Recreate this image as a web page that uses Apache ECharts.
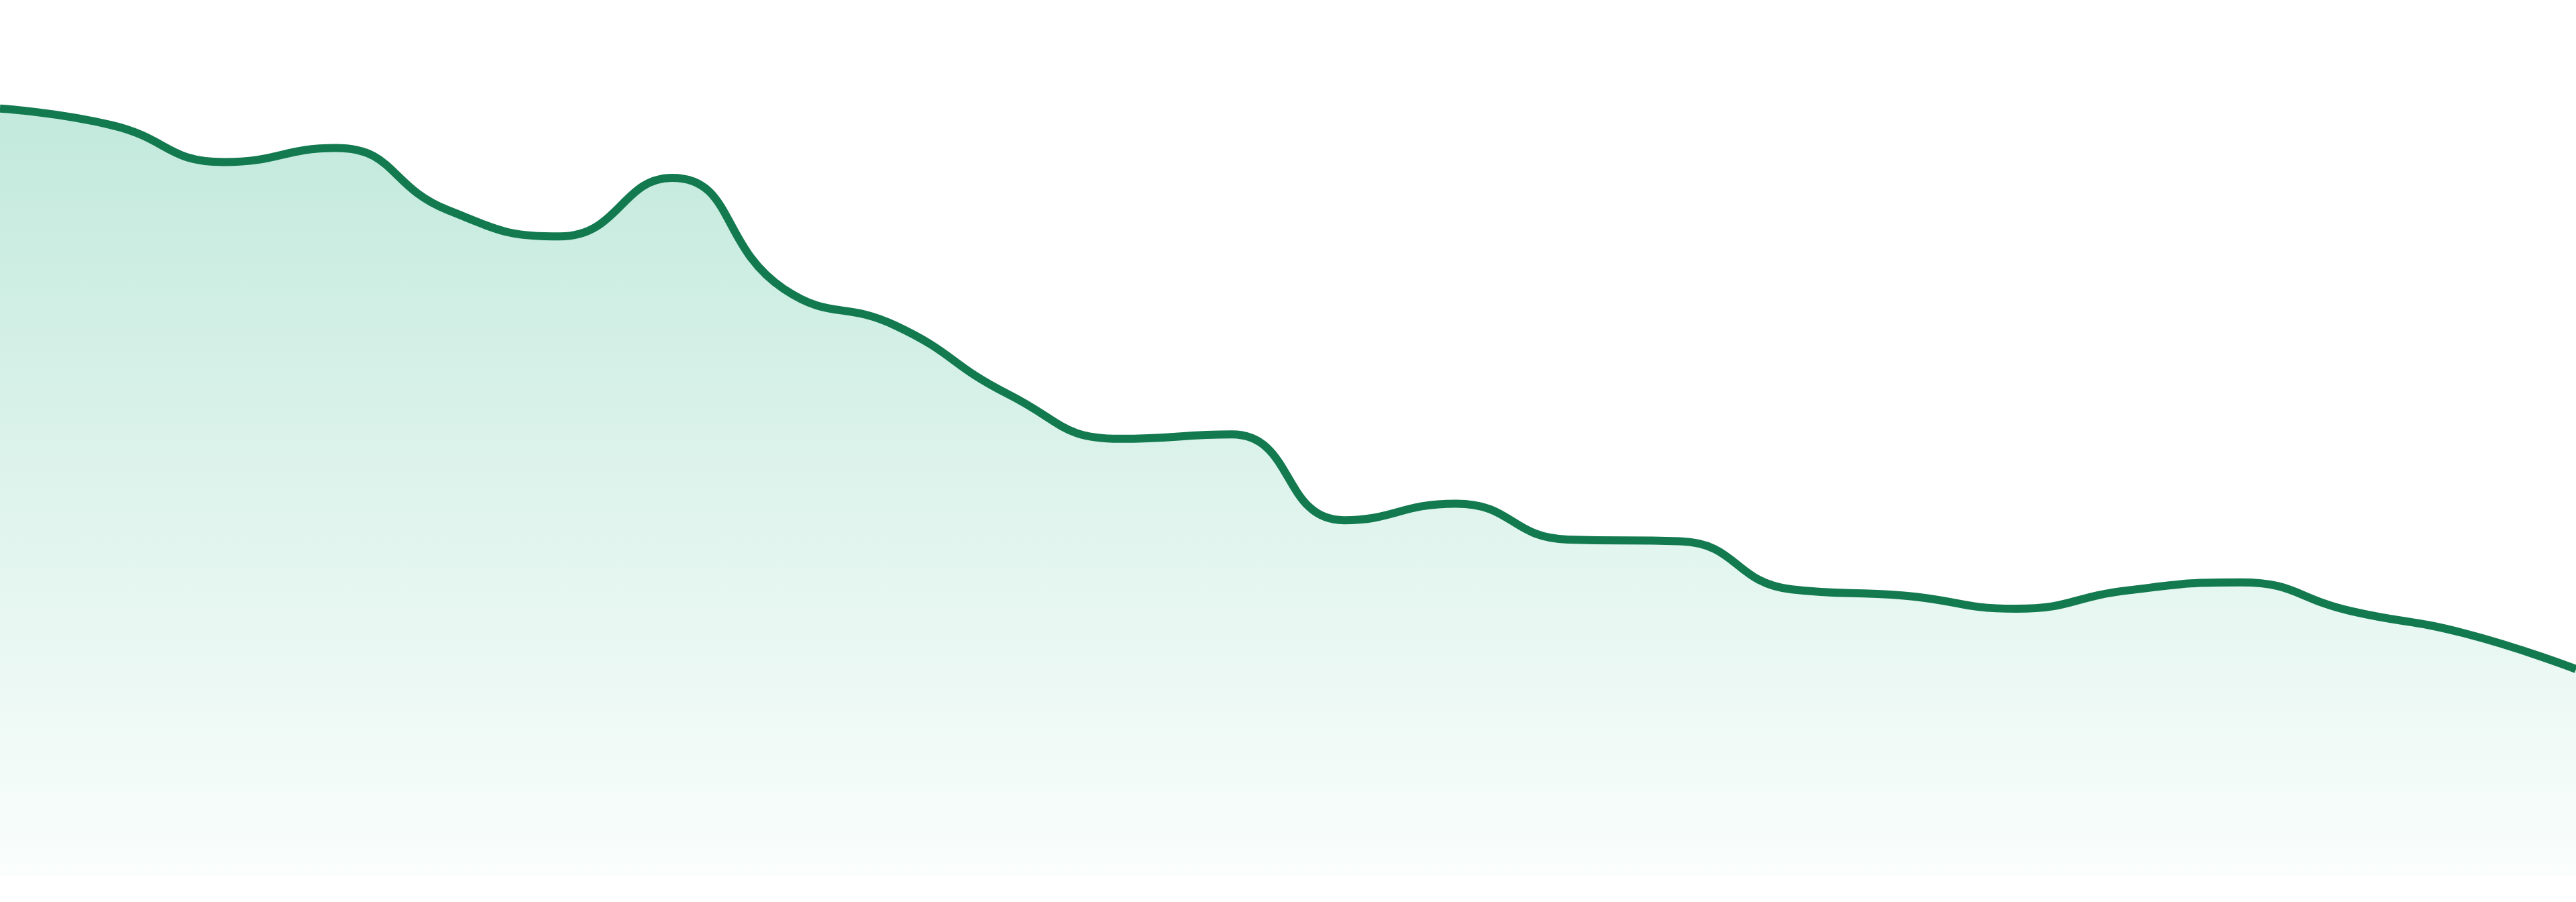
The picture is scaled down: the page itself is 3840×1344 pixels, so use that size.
<!DOCTYPE html>
<html>
<head>
<meta charset="utf-8">
<style>
  html, body { margin: 0; padding: 0; background: #ffffff; overflow: hidden; }
  #chart { width: 100vw; height: 100vh; }
</style>
<script src="https://cdn.jsdelivr.net/npm/echarts@6/dist/echarts.min.js"></script>
</head>
<body>
<div id="chart"></div>
<script>
const categories = ["P1","P2","P3","P4","P5","P6","P7","P8","P9","P10","P11","P12",
                    "P13","P14","P15","P16","P17","P18","P19","P20","P21","P22","P23","P24"];
const values = [87.6, 85.7, 81.5, 83.1, 76.0, 73.0, 79.7, 67.0, 62.8, 55.0, 49.9, 50.4,
                40.6, 42.5, 38.4, 38.2, 32.7, 32.0, 30.5, 32.6, 33.5, 30.2, 27.7, 23.6];
const yMin = 0;
const yMax = 100;

const el = document.getElementById('chart');
const chart = echarts.init(el, null, { renderer: 'canvas' });
chart.setOption({
  backgroundColor: '#ffffff',
  animation: false,
  grid: { left: 0, right: 0, top: 0, bottom: '2.9%', containLabel: false },
  xAxis: { type: 'category', data: categories, boundaryGap: false, show: false },
  yAxis: { type: 'value', min: yMin, max: yMax, show: false, splitLine: { show: false } },
  series: [{
    type: 'line',
    data: values,
    smooth: true,
    showSymbol: false,
    symbol: 'none',
    lineStyle: { color: '#137a50', width: 12 },
    areaStyle: {
      color: new echarts.graphic.LinearGradient(0, 0, 0, 1, [
        { offset: 0, color: 'rgb(168,224,205)' },
        { offset: 1, color: 'rgb(248,253,251)' }
      ])
    }
  }]
});
</script>
</body>
</html>
